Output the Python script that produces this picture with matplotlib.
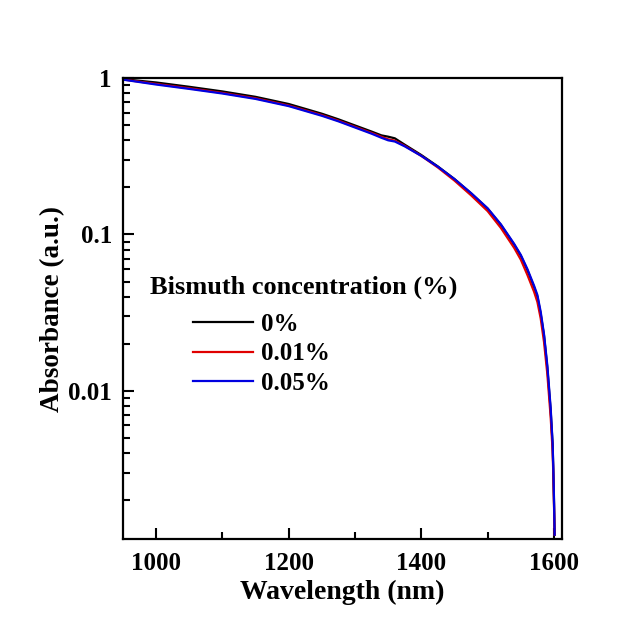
import numpy as np
import matplotlib.pyplot as plt
from matplotlib.ticker import FixedLocator, FixedFormatter, LogLocator, NullFormatter

plt.rcParams['font.family'] = ['Liberation Serif', 'DejaVu Serif']
plt.rcParams['font.weight'] = 'bold'

# wavelength grid (nm) and absorbance for each bismuth concentration
wl = [950, 1000, 1050, 1100, 1150, 1200, 1250, 1275, 1300, 1325, 1340, 1350, 1360, 1375,
      1400, 1425, 1450, 1475, 1500, 1520, 1540, 1550, 1560, 1570, 1575, 1580, 1585,
      1590, 1595, 1598, 1599, 1600, 1601]
abs_0 = [0.985, 0.938, 0.88, 0.822, 0.759, 0.683, 0.592, 0.545, 0.498, 0.455, 0.430,
         0.422, 0.412, 0.375, 0.322, 0.272, 0.226, 0.183, 0.146, 0.115, 0.086, 0.073,
         0.059, 0.046, 0.040, 0.031, 0.0225, 0.014, 0.0075, 0.0045, 0.0031, 0.002, 0.0012]
abs_001 = [0.98, 0.918, 0.861, 0.804, 0.743, 0.668, 0.58, 0.534, 0.488, 0.446, 0.421,
           0.406, 0.398, 0.369, 0.318, 0.268, 0.221, 0.178, 0.141, 0.110, 0.082, 0.069,
           0.055, 0.043, 0.037, 0.029, 0.0205, 0.0128, 0.0068, 0.0041, 0.0029, 0.0019, 0.0012]
abs_005 = [0.978, 0.91, 0.853, 0.797, 0.736, 0.662, 0.574, 0.529, 0.483, 0.441, 0.415,
           0.400, 0.393, 0.366, 0.318, 0.271, 0.226, 0.184, 0.147, 0.116, 0.087, 0.074,
           0.060, 0.047, 0.041, 0.032, 0.023, 0.0145, 0.0078, 0.0046, 0.0032, 0.0021, 0.0012]
labels = ['0%', '0.01%', '0.05%']
colors = ['black', '#e00000', '#0000e0']

fig = plt.figure(figsize=(6.4, 6.35), dpi=100)
ax = fig.add_axes([0.192, 0.151, 0.686, 0.726])

for y, lab, c in zip([abs_0, abs_001, abs_005], labels, colors):
    ax.plot(wl, y, color=c, lw=1.6, label=lab)

ax.set_yscale('log')
ax.set_xlim(950, 1612)
ax.set_ylim(0.001125, 1.0)

ax.xaxis.set_major_locator(FixedLocator([1000, 1200, 1400, 1600]))
ax.xaxis.set_minor_locator(FixedLocator([1100, 1300, 1500]))
ax.yaxis.set_major_locator(FixedLocator([0.01, 0.1, 1]))
ax.yaxis.set_major_formatter(FixedFormatter(['0.01', '0.1', '1']))
ax.yaxis.set_minor_locator(LogLocator(base=10, subs=np.arange(2, 10)))
ax.yaxis.set_minor_formatter(NullFormatter())

for s in ax.spines.values():
    s.set_linewidth(1.6)
ax.tick_params(which='both', direction='in', top=False, right=False, width=1.5, labelsize=18)
ax.tick_params(which='major', length=8)
ax.tick_params(which='minor', length=5)
ax.tick_params(axis='x', pad=9)
ax.tick_params(axis='y', pad=8)

ax.set_xlabel('Wavelength (nm)', fontsize=20, fontweight='bold', labelpad=4)
ax.set_ylabel('Absorbance (a.u.)', fontsize=19.5, fontweight='bold', labelpad=2)

ax.text(0.062, 0.547, 'Bismuth concentration (%)', transform=ax.transAxes,
        fontsize=19, fontweight='bold', va='center', ha='left')
ax.legend(loc='upper left', bbox_to_anchor=(0.16, 0.49), frameon=False, fontsize=18,
          handlelength=2.4, handletextpad=0.3, labelspacing=0.25, borderpad=0, borderaxespad=0)

fig.savefig('out.png', dpi=100, facecolor='white')
